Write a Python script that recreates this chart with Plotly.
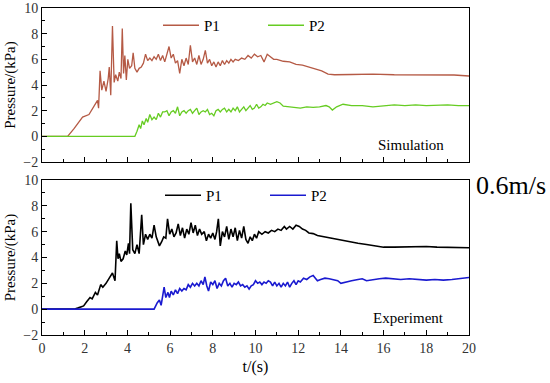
import plotly.graph_objects as go

# ---------------- data ----------------
sim_p1_t = [0, 1.2, 1.5, 1.9, 2.2, 2.4, 2.6, 2.65, 2.72, 2.8, 2.9, 3.0, 3.1, 3.15, 3.22, 3.3, 3.38, 3.45,
            3.55, 3.62, 3.7, 3.76, 3.82, 3.88, 3.95, 4.02, 4.1, 4.2, 4.27, 4.35, 4.45, 4.55, 4.65, 4.75,
            4.85, 4.95, 5.05, 5.15, 5.25, 5.35, 5.45, 5.55, 5.65, 5.75, 5.85, 5.95, 6.05, 6.15, 6.25,
            6.35, 6.45, 6.55, 6.65, 6.75, 6.85, 6.95, 7.05, 7.15, 7.25, 7.35, 7.45, 7.55, 7.65, 7.75,
            7.85, 7.95, 8.05, 8.15, 8.25, 8.35, 8.45, 8.55, 8.65, 8.75, 8.85, 8.95, 9.05, 9.2, 9.35,
            9.5, 9.65, 9.8, 9.95, 10.1, 10.25, 10.4, 10.55, 10.7, 10.85, 11.0, 11.3, 11.6, 11.9, 12.2,
            12.5, 12.8, 13.1, 13.4, 13.7, 14.5, 15.5, 16.5, 17.5, 18.5, 19.3, 20]
sim_p1_v = [0, 0, 0.6, 1.5, 1.7, 2.2, 2.8, 2.2, 5.1, 3.6, 4.3, 3.5, 4.5, 5.4, 3.2, 8.6, 4.2, 4.8,
            4.3, 5.0, 4.5, 8.4, 4.9, 6.3, 4.4, 6.0, 5.3, 5.5, 6.5, 5.3, 5.0, 5.3, 5.4, 5.7,
            6.4, 5.9, 6.1, 5.9, 6.2, 6.0, 6.4, 5.9, 6.3, 5.8, 6.5, 7.0, 6.1, 6.4, 5.7,
            5.9, 4.9, 6.0, 5.5, 6.1, 5.6, 7.1, 5.8, 6.1, 5.6, 6.3, 5.6, 6.0, 6.7, 5.7,
            6.0, 5.5, 5.8, 5.4, 5.8, 5.5, 5.9, 5.6, 5.9, 5.7, 6.0, 5.8, 6.0, 5.9, 6.1,
            6.0, 6.3, 6.1, 6.4, 6.2, 6.3, 5.8, 6.4, 6.2, 6.0, 6.0, 5.85, 5.8, 5.6, 5.55,
            5.4, 5.3, 5.1, 4.85, 4.8, 4.82, 4.85, 4.8, 4.78, 4.75, 4.78, 4.7]

sim_p2_t = [0, 4.35, 4.45, 4.55, 4.62, 4.7, 4.78, 4.88, 4.95, 5.05, 5.15, 5.25, 5.35, 5.45, 5.55, 5.65,
            5.75, 5.85, 5.95, 6.05, 6.15, 6.25, 6.35, 6.45, 6.55, 6.65, 6.75, 6.85, 6.95, 7.05, 7.15,
            7.25, 7.35, 7.45, 7.55, 7.65, 7.75, 7.85, 7.95, 8.05, 8.15, 8.25, 8.35, 8.45, 8.55, 8.65,
            8.75, 8.85, 8.95, 9.05, 9.15, 9.25, 9.35, 9.45, 9.55, 9.65, 9.75, 9.85, 9.95, 10.05, 10.15,
            10.25, 10.35, 10.45, 10.55, 10.7, 10.85, 11.0, 11.15, 11.3, 11.6, 11.9, 12.1, 12.4, 12.7,
            13.0, 13.3, 13.45, 13.6, 13.8, 14.1, 14.5, 15.0, 15.5, 16.0, 16.5, 17.0, 17.5, 18.0, 18.5,
            19.0, 19.5, 20]
sim_p2_v = [0, 0, 0.4, 0.9, 0.6, 1.2, 0.9, 1.4, 1.1, 1.7, 1.3, 1.5, 1.3, 1.8, 1.5, 1.9,
            1.9, 2.0, 1.6, 1.9, 2.0, 1.8, 2.3, 1.6, 1.9, 2.0, 1.8, 2.0, 2.1, 1.8, 2.0,
            2.2, 1.7, 1.9, 2.0, 1.9, 2.1, 1.7, 1.8, 1.6, 2.0, 2.1, 1.9, 2.1, 2.2, 1.9,
            2.1, 1.9, 2.2, 2.0, 2.3, 1.9, 2.1, 2.3, 2.0, 2.2, 2.4, 2.1, 2.2, 2.5, 2.2,
            2.3, 2.5, 2.4, 2.6, 2.5, 2.6, 2.7, 2.6, 2.35, 2.3, 2.25, 2.2, 2.3, 2.25,
            2.3, 2.4, 2.3, 2.05, 2.3, 2.5, 2.4, 2.4, 2.3, 2.4, 2.45, 2.4, 2.45, 2.4, 2.45,
            2.45, 2.4, 2.4]

exp_p1_t = [0, 1.5, 1.7, 1.95, 2.1, 2.25, 2.35, 2.5, 2.6, 2.75, 2.85, 3.0, 3.15, 3.3, 3.42, 3.5, 3.56,
            3.62, 3.7, 3.8, 3.9, 3.97, 4.05, 4.1, 4.16, 4.25, 4.35, 4.45, 4.55, 4.67, 4.75, 4.85, 4.95,
            5.05, 5.15, 5.25, 5.35, 5.5, 5.6, 5.7, 5.8, 5.88, 5.98, 6.08, 6.18, 6.28, 6.38, 6.48, 6.58,
            6.68, 6.78, 6.88, 6.98, 7.08, 7.18, 7.28, 7.38, 7.48, 7.6, 7.7, 7.8, 7.9, 8.0, 8.1, 8.18,
            8.26, 8.35, 8.45, 8.55, 8.65, 8.75, 8.85, 8.95, 9.05, 9.15, 9.25, 9.35, 9.45, 9.55, 9.65,
            9.75, 9.85, 9.95, 10.05, 10.15, 10.3, 10.45, 10.6, 10.75, 10.9, 11.05, 11.2, 11.35, 11.45,
            11.6, 11.75, 11.9, 12.05, 12.2, 12.35, 12.5, 12.7, 12.9, 13.2, 13.5, 13.8, 14.1, 14.4,
            14.8, 15.2, 15.6, 16.0, 16.5, 17.0, 17.5, 18.0, 18.5, 19.0, 19.5, 20]
exp_p1_v = [0, 0, 0.1, 0.25, 0.6, 0.9, 0.8, 1.3, 1.1, 1.9, 1.7, 2.0, 2.4, 2.8, 2.2, 5.3, 3.9,
            4.3, 3.7, 3.9, 4.5, 4.2, 5.1, 4.3, 8.2, 4.6, 4.3, 5.0, 4.3, 7.3, 5.0, 5.8, 5.4,
            5.8, 5.5, 6.5, 5.6, 4.9, 5.2, 5.6, 5.5, 7.0, 5.8, 6.2, 5.6, 5.9, 6.6, 5.7, 6.3,
            5.5, 6.2, 5.8, 6.7, 5.9, 6.5, 5.7, 6.2, 5.8, 6.0, 5.3, 5.8, 5.5, 5.9, 5.4, 6.0,
            7.0, 4.9, 6.0, 5.6, 6.4, 5.4, 6.2, 5.6, 6.3, 5.3, 6.1, 5.5, 6.4, 5.4, 5.1,
            5.6, 5.3, 5.8, 5.5, 6.0, 5.8, 6.0, 5.9, 6.1, 6.0, 6.2, 6.1, 6.4, 6.2,
            6.4, 6.2, 6.5, 6.4, 6.2, 6.1, 5.9, 5.85, 5.7, 5.6, 5.5, 5.4, 5.3, 5.25,
            5.1, 5.0, 4.9, 4.8, 4.8, 4.82, 4.85, 4.85, 4.8, 4.8, 4.78, 4.75]

exp_p2_t = [0, 5.25, 5.4, 5.5, 5.58, 5.72, 5.8, 5.9, 5.97, 6.05, 6.15, 6.25, 6.35, 6.45, 6.55, 6.65,
            6.75, 6.85, 6.95, 7.05, 7.15, 7.25, 7.35, 7.45, 7.55, 7.63, 7.72, 7.8, 7.9, 8.0, 8.1, 8.2,
            8.3, 8.4, 8.5, 8.6, 8.7, 8.8, 8.9, 9.0, 9.1, 9.2, 9.3, 9.4, 9.5, 9.6, 9.7, 9.8, 9.9, 10.0,
            10.1, 10.2, 10.3, 10.4, 10.5, 10.6, 10.7, 10.8, 10.9, 11.0, 11.1, 11.2, 11.3, 11.4, 11.5,
            11.6, 11.7, 11.8, 11.9, 12.0, 12.1, 12.25, 12.4, 12.55, 12.7, 12.8, 12.9, 13.05, 13.25,
            13.45, 13.65, 13.85, 14.0, 14.2, 14.5, 14.8, 15.0, 15.2, 15.5, 15.8, 16.1, 16.4, 16.8,
            17.2, 17.6, 18.0, 18.4, 18.8, 19.2, 19.6, 20]
exp_p2_v = [0, 0, 0.5, 0.7, 0.3, 1.7, 0.9, 1.3, 0.9, 1.4, 1.1, 1.5, 1.2, 1.6, 1.4, 1.6,
            1.5, 1.9, 1.7, 2.0, 1.8, 2.0, 1.8, 2.2, 1.9, 2.5, 1.8, 1.4, 2.1, 1.9, 2.2, 1.6,
            2.0, 1.8, 2.2, 2.4, 1.8, 2.0, 1.7, 2.0, 1.9, 2.1, 1.8, 1.9, 1.7, 1.8, 1.55, 1.8, 1.9, 2.2,
            2.0, 2.1, 1.9, 2.1, 2.0, 2.2, 2.1, 1.8, 2.1, 1.8, 2.0, 1.7, 2.0, 1.8, 2.1,
            1.7, 2.0, 2.2, 1.9, 2.2, 2.1, 2.4, 2.3, 2.5, 2.6, 2.4, 2.2, 2.3, 2.4,
            2.35, 2.3, 2.2, 2.0, 2.1, 2.2, 2.3, 2.35, 2.2, 2.3, 2.35, 2.4, 2.35, 2.3,
            2.35, 2.3, 2.25, 2.3, 2.25, 2.3, 2.35, 2.45]

x_ticks = [0, 2, 4, 6, 8, 10, 12, 14, 16, 18, 20]
y_ticks = [-2, 0, 2, 4, 6, 8, 10]

FONT = "Liberation Serif"
W, H = 550, 383

def px_x(p):
    return p / W

def px_y(p):
    return 1 - p / H

fig = go.Figure()

fig.add_trace(go.Scatter(x=sim_p1_t, y=sim_p1_v, mode="lines", name="P1",
                         line=dict(color="#B55A45", width=1.3), xaxis="x", yaxis="y", legend="legend"))
fig.add_trace(go.Scatter(x=sim_p2_t, y=sim_p2_v, mode="lines", name="P2",
                         line=dict(color="#66CC22", width=1.3), xaxis="x", yaxis="y", legend="legend"))
fig.add_trace(go.Scatter(x=exp_p1_t, y=exp_p1_v, mode="lines", name="P1",
                         line=dict(color="#000000", width=1.6), xaxis="x2", yaxis="y2", legend="legend2"))
fig.add_trace(go.Scatter(x=exp_p2_t, y=exp_p2_v, mode="lines", name="P2",
                         line=dict(color="#1A1AD0", width=1.6), xaxis="x2", yaxis="y2", legend="legend2"))

axis_common = dict(
    showline=True, linecolor="black", linewidth=1, mirror=True, automargin=False,
    ticks="inside", ticklen=5, tickcolor="black", showgrid=False, zeroline=False,
    ticklabeloverflow="allow",
    tickfont=dict(family=FONT, size=14, color="#333"),
)
minor = dict(ticks="inside", ticklen=3, dtick=1, tickcolor="black")

xdom = [px_x(42), px_x(469)]
fig.update_layout(
    template="none",
    width=W, height=H, margin=dict(l=0, r=0, t=0, b=0, autoexpand=False),
    paper_bgcolor="white", plot_bgcolor="white",
    font=dict(family=FONT, color="black"),
    xaxis=dict(**axis_common, range=[0, 20], domain=xdom, anchor="y",
               tickvals=x_ticks, showticklabels=False, minor=minor),
    yaxis=dict(**axis_common, range=[-2, 10], domain=[px_y(162), px_y(8)], anchor="x",
               tickvals=y_ticks, minor=minor,
               title=dict(text="Pressure/(kPa)", font=dict(family=FONT, size=15, color="black"), standoff=4)),
    xaxis2=dict(**axis_common, range=[0, 20], domain=xdom, anchor="y2",
                tickvals=x_ticks, minor=minor,
                title=dict(text="t/(s)", font=dict(family=FONT, size=16, color="black"), standoff=6)),
    yaxis2=dict(**axis_common, range=[-2, 10], domain=[px_y(335), px_y(180)], anchor="x2",
                tickvals=y_ticks, minor=minor,
                title=dict(text="Pressure/(kPa)", font=dict(family=FONT, size=15, color="black"), standoff=4)),
    legend=dict(orientation="h", x=px_x(158), y=px_y(9), xanchor="left", yanchor="top",
                bgcolor="rgba(0,0,0,0)", font=dict(family=FONT, size=15, color="black"),
                entrywidth=54, entrywidthmode="pixels", itemwidth=36, tracegroupgap=0),
    legend2=dict(orientation="h", x=px_x(160), y=px_y(179), xanchor="left", yanchor="top",
                 bgcolor="rgba(0,0,0,0)", font=dict(family=FONT, size=15, color="black"),
                 entrywidth=54, entrywidthmode="pixels", itemwidth=36, tracegroupgap=0),
    annotations=[
        dict(text="Simulation", x=(446 - 42) / 427, y=0.11, xref="x domain", yref="y domain",
             xanchor="right", yanchor="middle", showarrow=False,
             font=dict(family=FONT, size=15, color="black")),
        dict(text="Experiment", x=(446 - 42) / 427, y=0.11, xref="x2 domain", yref="y2 domain",
             xanchor="right", yanchor="middle", showarrow=False,
             font=dict(family=FONT, size=15, color="black")),
        dict(text="0.6m/s", x=px_x(511), y=px_y(185), xref="paper", yref="paper",
             xanchor="center", yanchor="middle", showarrow=False,
             font=dict(family=FONT, size=26, color="black")),
    ],
)

# remove the page's default body margin so the figure sits at the window's top-left corner
fig.write_html("out.html", config={"displayModeBar": False},
               post_script="document.body.style.margin='0px';")
